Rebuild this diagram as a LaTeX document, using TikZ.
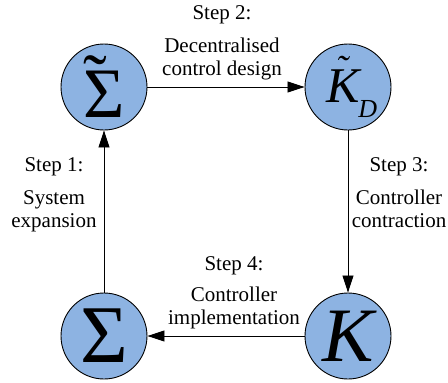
\documentclass[tikz,border=0pt]{standalone}
\usepackage{fontspec}
\setmainfont{Liberation Serif}
\usetikzlibrary{arrows.meta}
\definecolor{stateblue}{RGB}{141,179,226}
% tilde over a symbol: [shift right]{raise}{tilde size}{symbol}
\newcommand{\tildeon}[4][0pt]{\makebox[0pt][l]{\hspace{#1}\raisebox{#2}{\fontsize{#3}{#3}\selectfont ˜}}#4}

\begin{document}
\begin{tikzpicture}[
    x=1pt, y=-1pt,
    state/.style={draw, circle, fill=stateblue, line width=0.9pt, minimum size=86pt, inner sep=0pt},
    arrow/.style={-{Triangle[length=17pt, width=11pt]}, line width=0.8pt},
    lbl/.style={font=\fontsize{21}{23}\selectfont, align=center, anchor=base}
]
\useasboundingbox (0,0) rectangle (448,383);

\node[state] (sigt) at (104,87) {\fontsize{71}{71}\selectfont\tildeon{14pt}{71}{Σ}};
\node[state] (kd) at (348,87) {\hspace*{8pt}\fontsize{50}{50}\selectfont\itshape
  \tildeon[9pt]{22pt}{36}{K}\hspace{-2pt}\raisebox{-15pt}{\fontsize{26}{26}\selectfont D}};
\node[state] (sig) at (104,336) {\fontsize{82}{82}\selectfont Σ};
\node[state] (k) at (348,336) {\fontsize{77}{77}\selectfont\itshape K};

\draw[arrow] (sig) -- (sigt);
\draw[arrow] (sigt) -- (kd);
\draw[arrow] (kd) -- (k);
\draw[arrow] (k) -- (sig);

% base anchor = baseline of the last line
\node[lbl] (s1) at (54,227) {Step 1:\\[10pt]System\\expansion};
\node[lbl] (s2) at (222,75) {Step 2:\\[10pt]Decentralised\\control design};
\node[lbl] (s3) at (399,227) {Step 3:\\[10pt]Controller\\contraction};
\node[lbl] (s4) at (234,324) {Step 4:\\[8pt]Controller\\implementation};
\end{tikzpicture}
\end{document}
